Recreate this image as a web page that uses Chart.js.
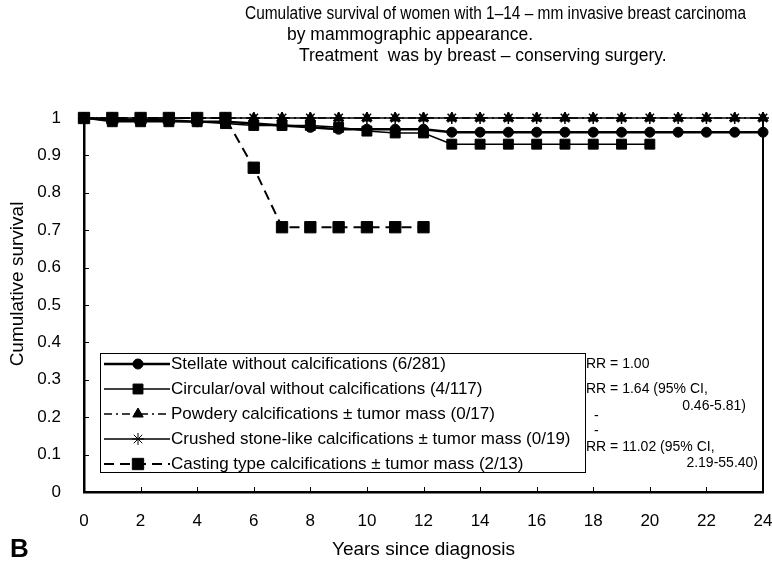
<!DOCTYPE html>
<html lang="en">
<head>
  <meta charset="UTF-8">
  <title>Cumulative survival by mammographic appearance</title>
  <script src="https://cdn.jsdelivr.net/npm/chart.js"></script>
  <style>
    html, body { margin: 0; padding: 0; background: #fff; }
  </style>
</head>
<body>
  <canvas id="survivalChart" width="772" height="570"></canvas>
  <script>
    // data
    const years = [0, 1, 2, 3, 4, 5, 6, 7, 8, 9, 10, 11, 12, 13, 14, 15, 16, 17, 18, 19, 20, 21, 22, 23, 24];
    const stellate = [1, 0.995, 0.995, 0.993, 0.99, 0.99, 0.985, 0.98, 0.975, 0.97, 0.97, 0.97, 0.97,
                      0.962, 0.962, 0.962, 0.962, 0.962, 0.962, 0.962, 0.962, 0.962, 0.962, 0.962, 0.962];
    const circular = [1, 0.99, 0.99, 0.99, 0.99, 0.985, 0.98, 0.98, 0.98, 0.975, 0.965, 0.96, 0.96,
                      0.93, 0.93, 0.93, 0.93, 0.93, 0.93, 0.93, 0.93];
    const powdery = [1, 1, 1, 1, 1, 1, 1, 1, 1, 1, 1, 1, 1, 1, 1, 1, 1, 1, 1, 1, 1, 1, 1, 1, 1];
    const crushed = [1, 1, 1, 1, 1, 1, 1, 1, 1, 1, 1, 1, 1, 1, 1, 1, 1, 1, 1, 1, 1, 1, 1, 1, 1];
    const casting = [1, 1, 1, 1, 1, 1, 0.867, 0.708, 0.708, 0.708, 0.708, 0.708, 0.708];

    const seriesNames = [
      'Stellate without calcifications (6/281)',
      'Circular/oval without calcifications (4/117)',
      'Powdery calcifications \u00b1 tumor mass (0/17)',
      'Crushed stone-like calcifications \u00b1 tumor mass (0/19)',
      'Casting type calcifications \u00b1 tumor mass (2/13)'
    ];
    const titleLines = [
      'Cumulative survival of women with 1\u201314 \u2013 mm invasive breast carcinoma',
      'by mammographic appearance.',
      'Treatment  was by breast \u2013 conserving surgery.'
    ];
    const rrNotes = ['RR = 1.00', 'RR = 1.64 (95% CI,', '0.46-5.81)', '-', '-', 'RR = 11.02 (95% CI,', '2.19-55.40)'];
    const xTitle = 'Years since diagnosis';
    const yTitle = 'Cumulative survival';
    const panelLetter = 'B';

    const FONT = '"Liberation Sans", Arial, sans-serif';

    function pts(values) {
      return values.map((v, i) => ({ x: years[i], y: v }));
    }

    // extra text, legend box, inward ticks, right frame
    const figureText = {
      id: 'figureText',
      afterDraw(chart) {
        const ctx = chart.ctx;
        const area = chart.chartArea;
        const xs = chart.scales.x;
        const ys = chart.scales.y;
        ctx.save();
        ctx.fillStyle = '#000';
        ctx.strokeStyle = '#000';

        // right frame line
        ctx.lineWidth = 2;
        ctx.beginPath();
        ctx.moveTo(area.right, area.top);
        ctx.lineTo(area.right, area.bottom);
        ctx.stroke();

        // inward tick marks
        ctx.lineWidth = 1;
        ctx.beginPath();
        for (let v = 2; v <= 24; v += 2) {
          const px = Math.round(xs.getPixelForValue(v)) + 0.5;
          ctx.moveTo(px, area.bottom);
          ctx.lineTo(px, area.bottom - 5);
        }
        for (let k = 1; k <= 10; k++) {
          const py = Math.round(ys.getPixelForValue(k / 10)) + 0.5;
          ctx.moveTo(area.left, py);
          ctx.lineTo(area.left + 5, py);
        }
        ctx.stroke();

        // title
        ctx.textBaseline = 'middle';
        ctx.textAlign = 'left';
        ctx.font = '17.5px ' + FONT;
        ctx.fillText(titleLines[0], 245, 14, 501);
        ctx.fillText(titleLines[1], 287, 35, 247);
        ctx.fillText(titleLines[2], 299, 56, 378);

        // y title
        ctx.save();
        ctx.translate(18, 284);
        ctx.rotate(-Math.PI / 2);
        ctx.textAlign = 'center';
        ctx.font = '19px ' + FONT;
        ctx.fillText(yTitle, 0, 0);
        ctx.restore();

        // panel letter
        ctx.font = 'bold 26px ' + FONT;
        ctx.fillText(panelLetter, 10, 550);

        // legend box
        const box = { l: 100, t: 353, r: 585, b: 472 };
        ctx.fillStyle = '#fff';
        ctx.fillRect(box.l, box.t, box.r - box.l, box.b - box.t);
        ctx.fillStyle = '#000';
        ctx.lineWidth = 1;
        ctx.strokeRect(box.l + 0.5, box.t + 0.5, box.r - box.l, box.b - box.t);

        ctx.font = '17px ' + FONT;
        chart.data.datasets.forEach((ds, i) => {
          const y = 364 + 25 * i;
          ctx.save();
          ctx.lineWidth = ds.borderWidth;
          ctx.setLineDash(ds.borderDash || []);
          ctx.beginPath();
          ctx.moveTo(104, y);
          ctx.lineTo(170, y);
          ctx.stroke();
          ctx.restore();
          if (Chart.helpers && Chart.helpers.drawPoint) {
            ctx.save();
            ctx.setLineDash([]);
            Chart.helpers.drawPoint(ctx, {
              pointStyle: ds.pointStyle,
              rotation: 0,
              radius: ds.pointRadius,
              borderWidth: ds.pointBorderWidth
            }, 138, y);
            ctx.restore();
          }
          ctx.fillText(ds.label, 171, y);
        });

        // relative risk notes
        ctx.font = '14px ' + FONT;
        ctx.textAlign = 'left';
        ctx.fillText(rrNotes[0], 586, 364);
        ctx.fillText(rrNotes[1], 586, 389);
        ctx.textAlign = 'right';
        ctx.fillText(rrNotes[2], 746, 406);
        ctx.textAlign = 'left';
        ctx.fillText(rrNotes[3], 594, 416);
        ctx.fillText(rrNotes[4], 594, 431);
        ctx.fillText(rrNotes[5], 586, 447);
        ctx.textAlign = 'right';
        ctx.fillText(rrNotes[6], 758, 463);

        ctx.restore();
      }
    };

    const ctx = document.getElementById('survivalChart').getContext('2d');

    new Chart(ctx, {
      type: 'line',
      data: {
        datasets: [
          {
            label: seriesNames[0],
            data: pts(stellate),
            borderColor: '#000', backgroundColor: '#000',
            borderWidth: 2.5,
            pointStyle: 'circle', pointRadius: 5, pointBorderWidth: 1,
            clip: false
          },
          {
            label: seriesNames[1],
            data: pts(circular),
            borderColor: '#000', backgroundColor: '#000',
            borderWidth: 1.5,
            pointStyle: 'rect', pointRadius: 7, pointBorderWidth: 1,
            clip: false
          },
          {
            label: seriesNames[2],
            data: pts(powdery),
            borderColor: '#000', backgroundColor: '#000',
            borderWidth: 1.5, borderDash: [8, 4, 2, 4],
            pointStyle: 'triangle', pointRadius: 6, pointBorderWidth: 1,
            clip: false
          },
          {
            label: seriesNames[3],
            data: pts(crushed),
            borderColor: '#000', backgroundColor: '#000',
            borderWidth: 1.5,
            pointStyle: 'star', pointRadius: 6, pointBorderWidth: 1.5,
            clip: false
          },
          {
            label: seriesNames[4],
            data: pts(casting),
            borderColor: '#000', backgroundColor: '#000',
            borderWidth: 2, borderDash: [10, 6],
            pointStyle: 'rect', pointRadius: 8, pointBorderWidth: 1,
            clip: false
          }
        ]
      },
      options: {
        responsive: false,
        animation: false,
        devicePixelRatio: 1,
        layout: { padding: { top: 118, right: 8, bottom: 0, left: 0 } },
        plugins: {
          legend: { display: false },
          tooltip: { enabled: false }
        },
        scales: {
          x: {
            type: 'linear',
            min: 0, max: 24,
            afterFit(scale) {
              scale.height = 78;
              scale.paddingLeft = 0;
              scale.paddingRight = 0;
            },
            grid: { display: false },
            border: { display: true, color: '#000', width: 2.5 },
            ticks: { stepSize: 2, padding: 11, color: '#000', font: { family: FONT, size: 17 } },
            title: {
              display: true, text: xTitle, color: '#000',
              font: { family: FONT, size: 19 },
              padding: { top: 0, bottom: 9 }
            }
          },
          y: {
            min: 0, max: 1,
            afterFit(scale) { scale.width = 84; },
            grid: { display: false },
            border: { display: true, color: '#000', width: 2.5 },
            ticks: {
              stepSize: 0.1, padding: 15, color: '#000',
              font: { family: FONT, size: 17 },
              callback: v => String(+v.toFixed(1))
            }
          }
        }
      },
      plugins: [figureText]
    });
  </script>
</body>
</html>
